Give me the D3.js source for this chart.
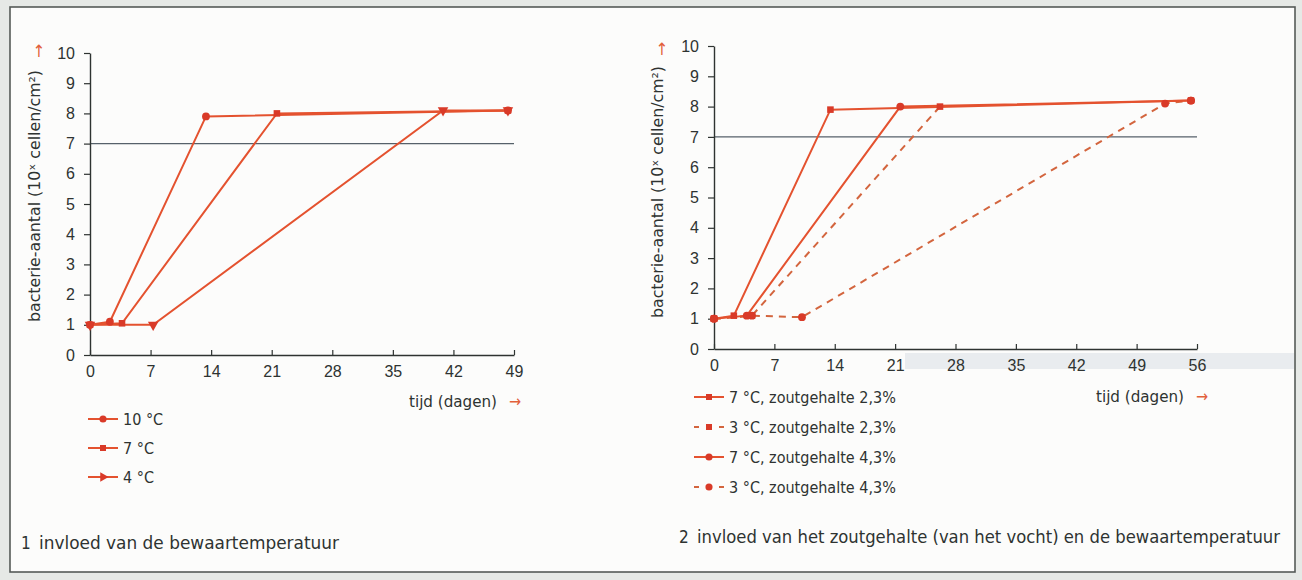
<!DOCTYPE html>
<html>
<head>
<meta charset="utf-8">
<script src="https://cdn.jsdelivr.net/npm/d3@7"></script>
<style>
  body { margin: 0; background: #e4e7e4; }
  svg { display: block; }
</style>
</head>
<body>
<script>
// ---- data ----
const tempLabels = ['10 °C', '7 °C', '4 °C']
const temp10Days = [0, 2.3, 13.4, 48.3]
const temp10Counts = [1, 1.1, 7.9, 8.1]
const temp7Days = [0, 3.7, 21.6, 48.3]
const temp7Counts = [1, 1.05, 8.0, 8.1]
const temp4Days = [0, 7.3, 40.8, 48.3]
const temp4Counts = [1, 1.0, 8.1, 8.1]

const saltLabels = ['7 °C, zoutgehalte 2,3%', '3 °C, zoutgehalte 2,3%', '7 °C, zoutgehalte 4,3%', '3 °C, zoutgehalte 4,3%']
const salt7lowDays = [0, 2.3, 13.5, 55.3]
const salt7lowCounts = [1, 1.1, 7.9, 8.2]
const salt3lowDays = [0, 4.4, 26.2]
const salt3lowCounts = [1, 1.1, 8.0]
const salt7highDays = [0, 3.8, 21.6, 55.3]
const salt7highCounts = [1, 1.1, 8.0, 8.2]
const salt3highDays = [0, 4.4, 10.2, 52.3, 55.3]
const salt3highCounts = [1, 1.1, 1.05, 8.1, 8.2]

const yTicks = [0, 1, 2, 3, 4, 5, 6, 7, 8, 9, 10]
const leftXTicks = [0, 7, 14, 21, 28, 35, 42, 49]
const rightXTicks = [0, 7, 14, 21, 28, 35, 42, 49, 56]
const limitValue = 7

const yTitle = 'bacterie-aantal (10ˣ cellen/cm²)'
const xTitle = 'tijd (dagen)'
const caption1 = 'invloed van de bewaartemperatuur'
const caption2 = 'invloed van het zoutgehalte (van het vocht) en de bewaartemperatuur'

const LINE = '#e4522f'
const DASH = '#d3653e'
const MARK = '#d93a28'
const INK = '#2e3331'
const FONT = '"Liberation Sans Narrow", "DejaVu Sans Condensed", "Liberation Sans", sans-serif'
const TICKFONT = '"Liberation Sans", Arial, sans-serif'

const zip = (days, counts) => days.map((d, i) => ({ day: d, count: counts[i] }))

const tempSeries = [
  { name: tempLabels[2], points: zip(temp4Days, temp4Counts), symbol: 'tri', dashed: false },
  { name: tempLabels[0], points: zip(temp10Days, temp10Counts), symbol: 'circle', dashed: false },
  { name: tempLabels[1], points: zip(temp7Days, temp7Counts), symbol: 'square', dashed: false }
]
const saltSeries = [
  { name: saltLabels[3], points: zip(salt3highDays, salt3highCounts), symbol: 'circle', dashed: true },
  { name: saltLabels[1], points: zip(salt3lowDays, salt3lowCounts), symbol: 'square', dashed: true },
  { name: saltLabels[2], points: zip(salt7highDays, salt7highCounts), symbol: 'circle', dashed: false },
  { name: saltLabels[0], points: zip(salt7lowDays, salt7lowCounts), symbol: 'square', dashed: false }
]

const width = 1302
const height = 580

const svg = d3.select('body')
  .append('svg')
  .attr('width', width)
  .attr('height', height)
  .style('font-family', FONT)

// paper + frame
svg.append('rect')
  .attr('x', 0).attr('y', 0).attr('width', width).attr('height', height)
  .attr('fill', '#e6e9e6')
svg.append('rect')
  .attr('x', 10).attr('y', 7).attr('width', 1285).attr('height', 565)
  .attr('fill', '#fcfcfb')
  .attr('stroke', '#555a58')
  .attr('stroke-width', 1.6)
// grey band that shows through from the back of the page
svg.append('rect')
  .attr('x', 905).attr('y', 353).attr('width', 389).attr('height', 16)
  .attr('fill', '#e9ecef')

const symbolPath = (kind, size) => {
  if (kind === 'circle') return d3.symbol(d3.symbolCircle, size)()
  if (kind === 'square') return d3.symbol(d3.symbolSquare, size * 0.9)()
  return d3.symbol(d3.symbolTriangle, size)()
}

const drawPanel = (cfg) => {
  const x = d3.scaleLinear().domain(cfg.xDomain).range(cfg.xRange)
  const y = d3.scaleLinear().domain([0, 10]).range(cfg.yRange)
  const g = svg.append('g')

  // limit line at 7
  g.append('line')
    .attr('x1', x(0)).attr('x2', x(cfg.xDomain[1]))
    .attr('y1', y(limitValue)).attr('y2', y(limitValue))
    .attr('stroke', '#56616a')
    .attr('stroke-width', 1.2)

  const yAxis = g.append('g')
    .attr('transform', `translate(${x(0)},0)`)
    .call(d3.axisLeft(y).tickValues(yTicks).tickSizeInner(6).tickSizeOuter(0).tickPadding(9))
  const xAxis = g.append('g')
    .attr('transform', `translate(0,${y(0)})`)
    .call(d3.axisBottom(x).tickValues(cfg.xTicks).tickSizeInner(-5).tickSizeOuter(0).tickPadding(11))

  ;[yAxis, xAxis].forEach((ax) => {
    ax.select('.domain').attr('stroke', INK).attr('stroke-width', 1.4)
    ax.selectAll('.tick line').attr('stroke', INK).attr('stroke-width', 1.2)
    ax.selectAll('.tick text')
      .attr('fill', INK)
      .attr('font-size', 16)
      .attr('font-family', TICKFONT)
  })

  const line = d3.line().x((d) => x(d.day)).y((d) => y(d.count))

  cfg.series.forEach((s) => {
    g.append('path')
      .datum(s.points)
      .attr('d', line)
      .attr('fill', 'none')
      .attr('stroke', s.dashed ? DASH : LINE)
      .attr('stroke-width', 2)
      .attr('stroke-dasharray', s.dashed ? '7,6' : null)
  })
  cfg.series.forEach((s) => {
    g.selectAll(null)
      .data(s.points)
      .enter()
      .append('path')
      .attr('d', symbolPath(s.symbol, 48))
      .attr('transform', (d) => `translate(${x(d.day)},${y(d.count)})${s.symbol === 'tri' ? ' rotate(180)' : ''}`)
      .attr('fill', MARK)
  })

  // y title with arrow
  g.append('text')
    .attr('transform', `translate(${cfg.titleX},${cfg.titleY}) rotate(-90)`)
    .attr('text-anchor', 'middle')
    .attr('fill', INK)
    .attr('font-size', 16)
    .attr('textLength', 252)
    .attr('lengthAdjust', 'spacingAndGlyphs')
    .text(yTitle)
  g.append('text')
    .attr('x', cfg.titleX - 1).attr('y', cfg.arrowY)
    .attr('text-anchor', 'middle')
    .attr('fill', '#e2603a')
    .attr('font-size', 17)
    .text('↑')

  // x title with arrow
  g.append('text')
    .attr('x', cfg.xTitleEnd - 24).attr('y', cfg.xTitleY)
    .attr('text-anchor', 'end')
    .attr('fill', INK)
    .attr('font-size', 16)
    .attr('textLength', 88)
    .attr('lengthAdjust', 'spacingAndGlyphs')
    .text(xTitle)
  g.append('text')
    .attr('x', cfg.xTitleEnd).attr('y', cfg.xTitleY)
    .attr('text-anchor', 'end')
    .attr('fill', '#e2603a')
    .attr('font-size', 16)
    .text('→')

  // legend
  cfg.series.slice().sort((a, b) => cfg.order.indexOf(a.name) - cfg.order.indexOf(b.name)).forEach((s, i) => {
    const ly = cfg.legendY + i * cfg.legendStep
    const lg = g.append('g').attr('transform', `translate(${cfg.legendX},${ly})`)
    if (s.dashed) {
      lg.append('line').attr('x1', 0).attr('x2', 5).attr('y1', 0).attr('y2', 0)
        .attr('stroke', DASH).attr('stroke-width', 2)
      lg.append('line').attr('x1', 25).attr('x2', 30).attr('y1', 0).attr('y2', 0)
        .attr('stroke', DASH).attr('stroke-width', 2)
    } else {
      lg.append('line').attr('x1', 0).attr('x2', 30).attr('y1', 0).attr('y2', 0)
        .attr('stroke', LINE).attr('stroke-width', 2)
    }
    lg.append('path')
      .attr('d', symbolPath(s.symbol, 40))
      .attr('transform', `translate(15,0)${s.symbol === 'tri' ? ' rotate(90)' : ''}`)
      .attr('fill', MARK)
    lg.append('text')
      .attr('x', 35).attr('y', 0).attr('dy', '0.35em')
      .attr('fill', INK)
      .attr('font-size', 16)
      .text(s.name)
  })

  // caption
  g.append('text')
    .attr('x', cfg.captionX).attr('y', cfg.captionY)
    .attr('fill', INK)
    .attr('font-size', 17)
    .text(cfg.captionNum)
  g.append('text')
    .attr('x', cfg.captionX + 18).attr('y', cfg.captionY)
    .attr('fill', INK)
    .attr('font-size', 18)
    .attr('textLength', cfg.captionLen)
    .attr('lengthAdjust', 'spacingAndGlyphs')
    .text(cfg.caption)
}

drawPanel({
  xDomain: [0, 49], xRange: [90, 514], yRange: [355, 53], xTicks: leftXTicks,
  series: tempSeries, order: tempLabels,
  titleX: 40, titleY: 196, arrowY: 57,
  xTitleEnd: 521, xTitleY: 407,
  legendX: 88, legendY: 419, legendStep: 29,
  captionX: 21, captionY: 549, captionNum: '1', caption: caption1, captionLen: 300
})

drawPanel({
  xDomain: [0, 56], xRange: [714, 1197], yRange: [349, 46], xTicks: rightXTicks,
  series: saltSeries, order: saltLabels,
  titleX: 663, titleY: 192, arrowY: 55,
  xTitleEnd: 1208, xTitleY: 402,
  legendX: 694, legendY: 397, legendStep: 30,
  captionX: 679, captionY: 543, captionNum: '2', caption: caption2, captionLen: 583
})
</script>
</body>
</html>
